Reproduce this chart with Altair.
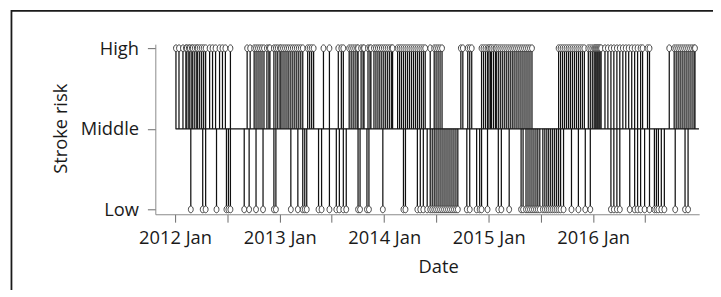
import altair as alt
import pandas as pd

# Dates (decimal years) of readings at "High" stroke risk
high_years = [
    2012.009, 2012.038, 2012.076, 2012.104, 2012.113, 2012.132, 2012.142, 2012.161,
    2012.170, 2012.189, 2012.208, 2012.217, 2012.236, 2012.255, 2012.274, 2012.293,
    2012.331, 2012.359, 2012.388, 2012.426, 2012.454, 2012.482, 2012.530,
    2012.690, 2012.719, 2012.757, 2012.775, 2012.794, 2012.813, 2012.832, 2012.851,
    2012.879, 2012.898, 2012.908, 2012.946, 2012.965, 2012.983,
    2013.002, 2013.012, 2013.031, 2013.050, 2013.069, 2013.087, 2013.106, 2013.125,
    2013.144, 2013.163, 2013.182, 2013.201, 2013.220, 2013.267, 2013.286, 2013.305,
    2013.324, 2013.418, 2013.475,
    2013.560, 2013.589, 2013.608, 2013.664, 2013.683, 2013.702, 2013.721, 2013.740,
    2013.749, 2013.778, 2013.797, 2013.806, 2013.844, 2013.863, 2013.872, 2013.901,
    2013.920, 2013.939, 2013.957, 2013.976, 2013.995,
    2014.014, 2014.033, 2014.052, 2014.071, 2014.080, 2014.128, 2014.147, 2014.165,
    2014.184, 2014.203, 2014.222, 2014.241, 2014.260, 2014.279, 2014.298, 2014.317,
    2014.336, 2014.355, 2014.374, 2014.392, 2014.440, 2014.478, 2014.496, 2014.515,
    2014.534, 2014.553,
    2014.733, 2014.752, 2014.799, 2014.818, 2014.837, 2014.931, 2014.950, 2014.969,
    2014.988,
    2015.002, 2015.017, 2015.026, 2015.045, 2015.064, 2015.073, 2015.092, 2015.111,
    2015.130, 2015.149, 2015.168, 2015.187, 2015.206, 2015.225, 2015.243, 2015.262,
    2015.281, 2015.300, 2015.319, 2015.338, 2015.357, 2015.376, 2015.395, 2015.414,
    2015.669, 2015.688, 2015.707, 2015.726, 2015.745, 2015.764, 2015.782, 2015.801,
    2015.820, 2015.839, 2015.858, 2015.877, 2015.896, 2015.915, 2015.953, 2015.972,
    2015.991,
    2016.009, 2016.019, 2016.028, 2016.038, 2016.047, 2016.057, 2016.066, 2016.076,
    2016.113, 2016.141, 2016.170, 2016.198, 2016.227, 2016.255, 2016.284, 2016.312,
    2016.340, 2016.369, 2016.397, 2016.425, 2016.454, 2016.473, 2016.520, 2016.539,
    2016.728, 2016.775, 2016.794, 2016.813, 2016.832, 2016.851, 2016.870, 2016.889,
    2016.908, 2016.927, 2016.946, 2016.965, 2016.974,
]

# Dates (decimal years) of readings at "Low" stroke risk
low_years = [
    2012.151, 2012.265, 2012.293, 2012.397, 2012.492, 2012.511, 2012.530, 2012.662,
    2012.709, 2012.775, 2012.842, 2012.946, 2012.965,
    2013.106, 2013.173, 2013.220, 2013.239, 2013.258, 2013.371, 2013.400, 2013.475,
    2013.541, 2013.570, 2013.608, 2013.636, 2013.749, 2013.768, 2013.834, 2013.853,
    2013.986,
    2014.184, 2014.203, 2014.317, 2014.345, 2014.374, 2014.411, 2014.440, 2014.459,
    2014.478, 2014.496, 2014.515, 2014.534, 2014.553, 2014.572, 2014.591, 2014.610,
    2014.629, 2014.648, 2014.667, 2014.686, 2014.704, 2014.790, 2014.818, 2014.884,
    2014.913, 2014.931, 2014.988,
    2015.092, 2015.121, 2015.196, 2015.310, 2015.329, 2015.357, 2015.376, 2015.395,
    2015.414, 2015.433, 2015.452, 2015.470, 2015.489, 2015.518, 2015.537, 2015.556,
    2015.574, 2015.593, 2015.612, 2015.631, 2015.650, 2015.669, 2015.688, 2015.716,
    2015.792, 2015.858, 2015.924, 2015.972,
    2016.170, 2016.198, 2016.227, 2016.255, 2016.350, 2016.397, 2016.425, 2016.454,
    2016.492, 2016.539, 2016.586, 2016.605, 2016.624, 2016.652, 2016.681, 2016.785,
    2016.879, 2016.908,
]

# First and last reading of the series (decimal years), baseline at "Middle"
series_span = [2012.005, 2017.010]
# Visible range of the date axis (decimal years)
axis_span = [2011.811, 2017.012]

level_names = ["Low", "Middle", "High"]
level_codes = {"Low": 0, "Middle": 1, "High": 2}


def to_ts(y):
    yr = int(y)
    return pd.Timestamp(f"{yr}-01-01") + pd.Timedelta(days=(y - yr) * 365.25)


spikes = pd.DataFrame(
    {
        "date": [to_ts(v) for v in high_years] + [to_ts(v) for v in low_years],
        "level": [level_codes["High"]] * len(high_years) + [level_codes["Low"]] * len(low_years),
    }
)
spikes["mid"] = level_codes["Middle"]

baseline = pd.DataFrame(
    {"start": [to_ts(series_span[0])], "end": [to_ts(series_span[1])], "mid": [level_codes["Middle"]]}
)

d0, d1 = to_ts(axis_span[0]), to_ts(axis_span[1])


def dt(ts):
    return alt.DateTime(year=ts.year, month=ts.month, date=ts.day, hours=ts.hour)


tick_values = [alt.DateTime(year=y, month=m, date=1) for y in range(2012, 2017) for m in (1, 7)]

x_scale = alt.Scale(domain=[dt(d0), dt(d1)], nice=False)
y_scale = alt.Scale(domain=[-0.06, 2.05], nice=False, zero=False)

x_axis = alt.Axis(
    values=tick_values,
    labelExpr="month(datum.value) == 0 ? timeFormat(datum.value, '%Y %b') : ''",
    labelOverlap=False,
    labelFlush=False,
    tickSize=8,
    labelPadding=22,
    labelBaseline="alphabetic",
    title="Date",
    titleX=286,
    titleY=59,
    titleBaseline="alphabetic",
    titleAlign="center",
)
y_axis = alt.Axis(
    values=[0, 1, 2],
    labelExpr="datum.value == 2 ? 'High' : (datum.value == 1 ? 'Middle' : 'Low')",
    tickSize=8,
    labelPadding=9,
    labelBaseline="middle",
    title="Stroke risk",
    titleX=-90,
    titleY=85,
    titleAngle=270,
    titleBaseline="alphabetic",
    titleAlign="center",
)

line_col = "#101010"

base_line = alt.Chart(baseline).mark_rule(color=line_col, strokeWidth=1.2).encode(
    x=alt.X("start:T", scale=x_scale, axis=x_axis),
    x2="end:T",
    y=alt.Y("mid:Q", scale=y_scale, axis=y_axis),
)

stems = alt.Chart(spikes).mark_rule(color=line_col, strokeWidth=1.25).encode(
    x=alt.X("date:T", scale=x_scale),
    y=alt.Y("mid:Q", scale=y_scale),
    y2="level:Q",
)

ellipse = "M0,-1A0.72,1 0 1,1 0,1A0.72,1 0 1,1 0,-1Z"

dots = alt.Chart(spikes).mark_point(
    shape=ellipse, size=46, filled=False, fill="white", fillOpacity=1,
    stroke="#404040", strokeWidth=1, opacity=1,
).encode(
    x=alt.X("date:T", scale=x_scale),
    y=alt.Y("level:Q", scale=y_scale),
)

frame = alt.Chart(pd.DataFrame({"k": [0]})).mark_rect(
    fillOpacity=0, stroke="#1a1a1a", strokeWidth=1.8
).encode(
    x=alt.value(-145.5), x2=alt.value(640), y=alt.value(-33.7), y2=alt.value(300)
)

chart = (
    alt.layer(frame, base_line, stems, dots)
    .properties(
        width=550,
        height=172,
        autosize=alt.AutoSizeParams(type="none"),
        padding={"left": 149, "top": 35, "right": 14, "bottom": 75},
    )
    .configure_view(stroke=None)
    .configure_axis(
        grid=False,
        domainColor="#8a8a8a",
        domainWidth=1,
        tickColor="#6a6a6a",
        tickWidth=1,
        labelColor="#1a1a1a",
        titleColor="#1a1a1a",
        labelFont="Open Sans",
        titleFont="Open Sans",
        labelFontSize=18.5,
        titleFontSize=18.5,
        titleFontWeight="normal",
    )
)

chart.save("out.html", embed_options={"renderer": "svg", "actions": False})
